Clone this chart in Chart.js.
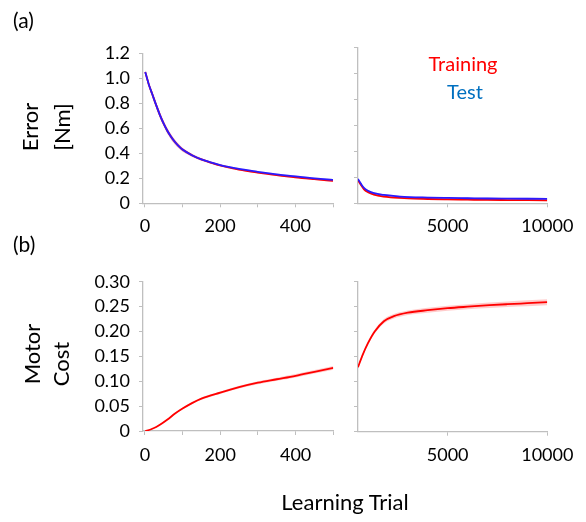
<!DOCTYPE html>
<html>
<head>
<meta charset="utf-8">
<script src="https://cdn.jsdelivr.net/npm/chart.js@4"></script>
<style>
  html, body { margin:0; padding:0; background:#fff; }
  #wrap { position:relative; width:586px; height:522px; overflow:hidden; font-family: Lato, "Open Sans", sans-serif; }
  canvas { position:absolute; left:0; top:0; }
  .t { position:absolute; white-space:nowrap; color:#000; line-height:1; }
  .rot { transform: translate(-50%,-50%) rotate(-90deg); }
  .ctr { transform: translate(-50%,-50%); }
</style>
</head>
<body>
<div id="wrap">
  <canvas id="c1" width="586" height="522"></canvas>
  <canvas id="c2" width="586" height="522"></canvas>
  <canvas id="c3" width="586" height="522"></canvas>
  <canvas id="c4" width="586" height="522"></canvas>
  <div class="t" style="left:13px;top:9px;font-size:21px;">(a)</div>
  <div class="t" style="left:13px;top:233px;font-size:21px;">(b)</div>
  <div class="t rot" style="left:30px;top:127px;font-size:22px;">Error</div>
  <div class="t rot" style="left:62px;top:127px;font-size:22px;">[Nm]</div>
  <div class="t rot" style="left:32px;top:354px;font-size:22px;">Motor</div>
  <div class="t rot" style="left:61px;top:364px;font-size:22px;">Cost</div>
  <div class="t ctr" style="left:463px;top:63px;font-size:20px;color:#ff0000;">Training</div>
  <div class="t ctr" style="left:465px;top:91px;font-size:20px;color:#0070c0;">Test</div>
  <div class="t ctr" style="left:345px;top:502px;font-size:22px;">Learning Trial</div>
</div>
<script>
// ---------- data ----------
const trialsErrEarly = [1, 10, 20, 30, 40, 50, 60, 70, 80, 90, 100, 125, 150, 175, 200, 250, 300, 350, 400, 450, 500];
const errTestEarly  = [1.05, 0.955, 0.87, 0.785, 0.706, 0.637, 0.578, 0.53, 0.49, 0.457, 0.43, 0.385, 0.352, 0.328, 0.306, 0.275, 0.252, 0.232, 0.215, 0.200, 0.187];
const errTrainEarly = [1.05, 0.955, 0.87, 0.785, 0.706, 0.637, 0.578, 0.53, 0.49, 0.457, 0.43, 0.385, 0.351, 0.326, 0.303, 0.270, 0.246, 0.226, 0.208, 0.193, 0.179];
const errBandEarly  = [0.012, 0.018, 0.022, 0.024, 0.024, 0.023, 0.022, 0.021, 0.019, 0.017, 0.015, 0.012, 0.01, 0.009, 0.008, 0.007, 0.007, 0.007, 0.007, 0.007, 0.007];

const trialsErrLate = [500, 650, 800, 1000, 1300, 1800, 2600, 4000, 5000, 6000, 7000, 8000, 9000, 10000];
const errTestLate  = [0.187, 0.150, 0.118, 0.097, 0.078, 0.064, 0.052, 0.044, 0.041, 0.039, 0.037, 0.036, 0.035, 0.034];
const errTrainLate = [0.179, 0.140, 0.108, 0.086, 0.067, 0.052, 0.041, 0.033, 0.030, 0.028, 0.026, 0.025, 0.024, 0.023];
const errBandLate  = [0.007, 0.007, 0.007, 0.007, 0.007, 0.007, 0.007, 0.007, 0.007, 0.007, 0.007, 0.007, 0.007, 0.007];

const trialsCostEarly = [1, 15, 30, 45, 60, 80, 100, 125, 150, 200, 250, 300, 350, 400, 450, 500];
const costEarly     = [0, 0.003, 0.008, 0.015, 0.023, 0.035, 0.045, 0.056, 0.065, 0.077, 0.088, 0.097, 0.104, 0.111, 0.119, 0.127];
const costBandEarly = [0.001, 0.001, 0.0012, 0.0014, 0.0016, 0.0018, 0.002, 0.0022, 0.0024, 0.0026, 0.0028, 0.003, 0.0032, 0.0034, 0.0036, 0.0038];

const trialsCostLate = [500, 750, 1000, 1330, 1800, 2300, 3000, 4000, 5000, 6000, 7100, 8000, 9000, 10000];
const costLate     = [0.129, 0.155, 0.177, 0.200, 0.221, 0.231, 0.238, 0.243, 0.247, 0.250, 0.253, 0.255, 0.257, 0.259];
const costBandLate = [0.003, 0.0035, 0.004, 0.004, 0.0045, 0.0045, 0.0045, 0.005, 0.005, 0.005, 0.0055, 0.0055, 0.006, 0.006];

const errTickValues = [0, 0.2, 0.4, 0.6, 0.8, 1.0, 1.2];
const errTickLabels = ['0', '0.2', '0.4', '0.6', '0.8', '1.0', '1.2'];
const costTickValues = [0, 0.05, 0.10, 0.15, 0.20, 0.25, 0.30];
const costTickLabels = ['0', '0.05', '0.10', '0.15', '0.20', '0.25', '0.30'];
const earlyTickValues = [0, 100, 200, 300, 400, 500];
const earlyTickLabels = ['0', '', '200', '', '400', ''];
const lateTickValues = [5000, 10000];
const lateTickLabels = ['5000', '10000'];

// ---------- helpers ----------
const W = 586, H = 522;
const FONT = { family: 'Lato, "Open Sans", sans-serif', size: 18 };
const AXIS = '#bfbfbf';

function pts(xs, ys, sign, band) {
  return xs.map((x, i) => ({ x: x, y: ys[i] + sign * (band ? band[i] : 0) }));
}
function bandSets(xs, ys, band, fillColor, order) {
  return [
    { data: pts(xs, ys, 1, band), borderWidth: 0, pointRadius: 0, fill: '+1', backgroundColor: fillColor, cubicInterpolationMode: 'monotone', order: order },
    { data: pts(xs, ys, -1, band), borderWidth: 0, pointRadius: 0, fill: false, cubicInterpolationMode: 'monotone', order: order },
  ];
}
function lineSet(xs, ys, color, order) {
  return { data: pts(xs, ys, 0), borderColor: color, borderWidth: 1.8, pointRadius: 0, fill: false, cubicInterpolationMode: 'monotone', order: order };
}

function makeChart(id, area, datasets, xCfg, yCfg, xPad) {
  const yW = 50, xH = 40;
  new Chart(document.getElementById(id), {
    type: 'line',
    data: { datasets },
    options: {
      responsive: false, animation: false, events: [],
      layout: { padding: { left: area.l - yW, right: W - area.r, top: area.t, bottom: H - area.b - xH } },
      plugins: { legend: { display: false }, tooltip: { enabled: false } },
      scales: {
        x: {
          type: 'linear', min: xCfg.min, max: xCfg.max,
          afterBuildTicks: s => { s.ticks = xCfg.values.map(v => ({ value: v })); },
          afterFit: s => { s.height = xH; },
          border: { color: AXIS, width: 1.3 },
          grid: { drawOnChartArea: false, color: AXIS, tickLength: 4 },
          ticks: { font: FONT, color: '#000', padding: xPad, maxRotation: 0, autoSkip: false,
                   callback: (v) => xCfg.labels[xCfg.values.indexOf(v)] ?? '' }
        },
        y: {
          min: yCfg.min, max: yCfg.max,
          afterBuildTicks: s => { s.ticks = yCfg.values.map(v => ({ value: v })); },
          afterFit: s => { s.width = yW; },
          border: { color: AXIS, width: 1.3 },
          grid: { drawOnChartArea: false, color: AXIS, tickLength: 4 },
          ticks: { font: FONT, color: '#000', padding: 9, autoSkip: false,
                   callback: (v) => yCfg.labels ? (yCfg.labels[yCfg.values.indexOf(v)] ?? '') : '' }
        }
      }
    }
  });
}

const RED = '#ff0000', BLUE = '#2a1aff';
const PINK = 'rgba(255,0,0,0.2)', LAV = 'rgba(120,40,200,0.25)';

// (a) left
makeChart('c1', { l: 143, r: 333, t: 53.3, b: 203.3 }, [
  lineSet(trialsErrEarly, errTestEarly, BLUE, 0),
  lineSet(trialsErrEarly, errTrainEarly, RED, 1),
  ...bandSets(trialsErrEarly, errTestEarly, errBandEarly, LAV, 2),
  ...bandSets(trialsErrEarly, errTrainEarly, errBandEarly, PINK, 3),
], { min: -5, max: 500, values: earlyTickValues, labels: earlyTickLabels },
   { min: 0, max: 1.2, values: errTickValues, labels: errTickLabels }, 8);

// (a) right
makeChart('c2', { l: 358, r: 547.3, t: 47.3, b: 203.3 }, [
  lineSet(trialsErrLate, errTestLate, BLUE, 0),
  lineSet(trialsErrLate, errTrainLate, RED, 1),
  ...bandSets(trialsErrLate, errTestLate, errBandLate, LAV, 2),
  ...bandSets(trialsErrLate, errTrainLate, errBandLate, PINK, 3),
], { min: 500, max: 10000, values: lateTickValues, labels: lateTickLabels },
   { min: 0, max: 1.2, values: errTickValues, labels: null }, 8);

// (b) left
makeChart('c3', { l: 143, r: 333.3, t: 281.7, b: 431 }, [
  lineSet(trialsCostEarly, costEarly, RED, 0),
  ...bandSets(trialsCostEarly, costEarly, costBandEarly, PINK, 1),
], { min: -5, max: 500, values: earlyTickValues, labels: earlyTickLabels },
   { min: 0, max: 0.30, values: costTickValues, labels: costTickLabels }, 9);

// (b) right
makeChart('c4', { l: 358, r: 547.3, t: 281.7, b: 431.7 }, [
  lineSet(trialsCostLate, costLate, RED, 0),
  ...bandSets(trialsCostLate, costLate, costBandLate, PINK, 1),
], { min: 500, max: 10000, values: lateTickValues, labels: lateTickLabels },
   { min: 0, max: 0.30, values: costTickValues, labels: null }, 9);
</script>
</body>
</html>
